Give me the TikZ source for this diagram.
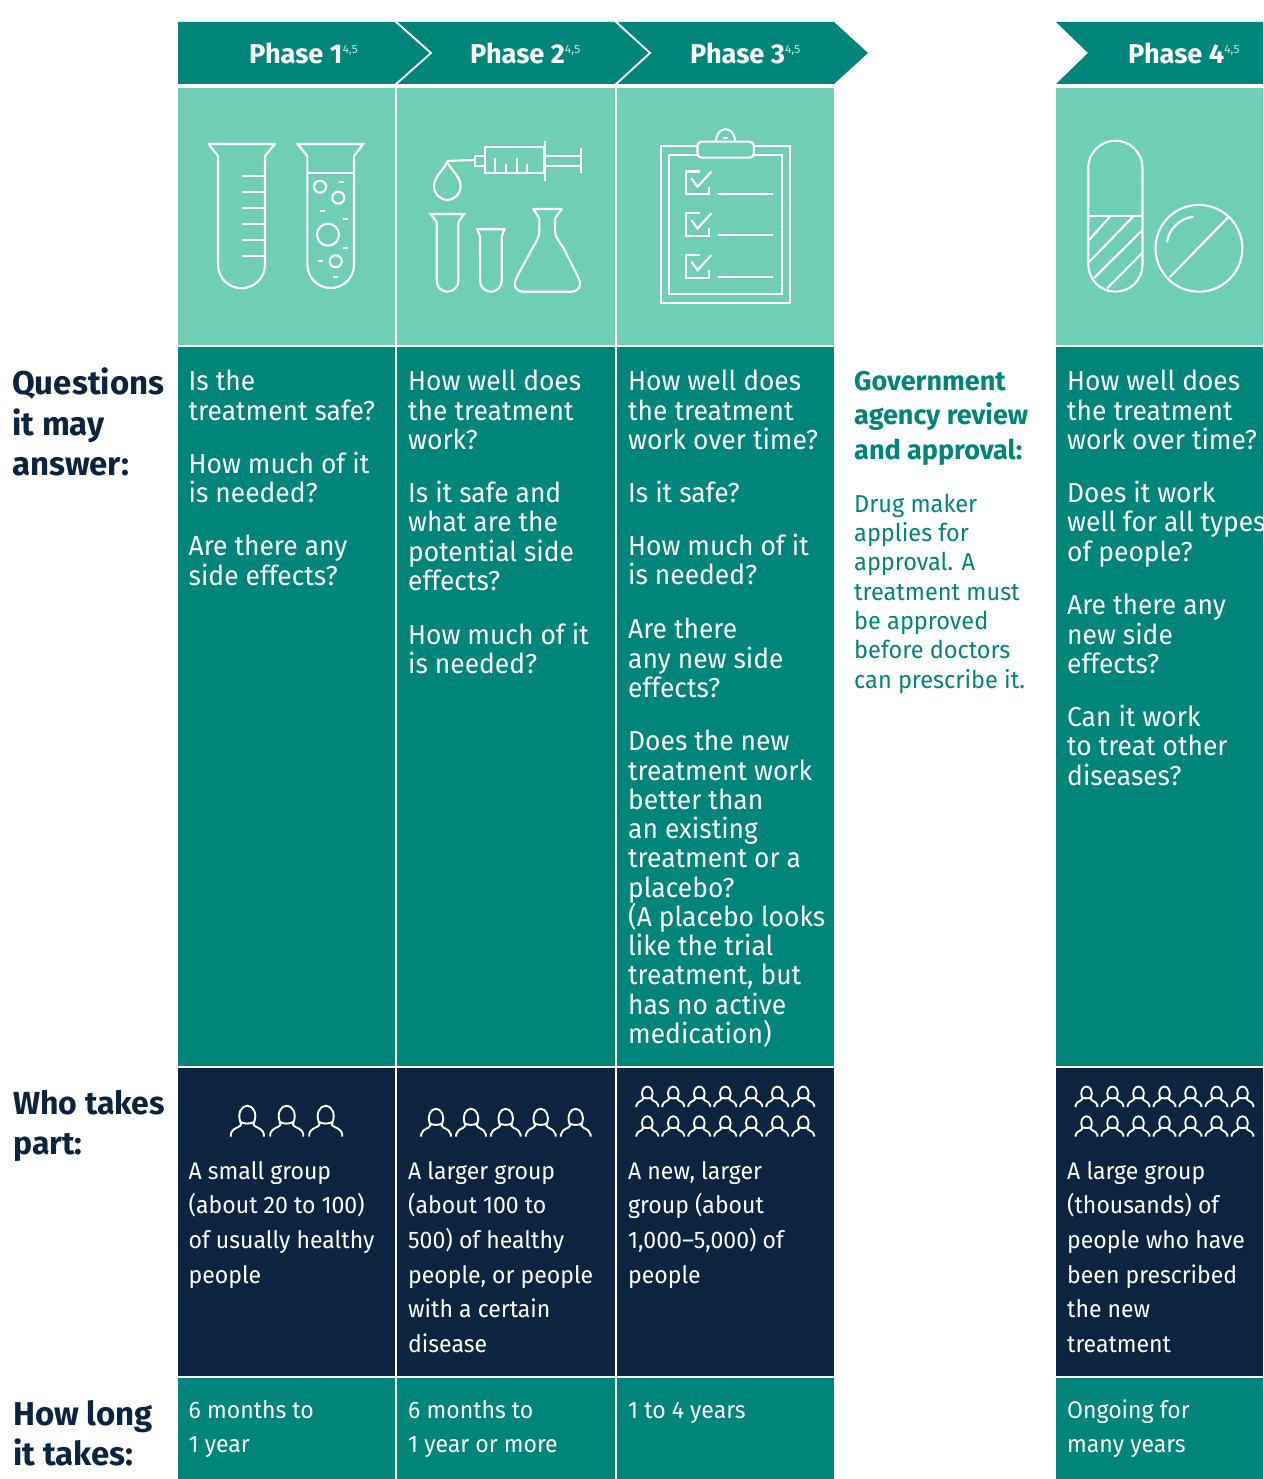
\documentclass[tikz,border=0pt]{standalone}
\usepackage{fontspec}
\setmainfont{Fira Sans}
\newfontfamily\narrowf[FakeStretch=0.96]{Fira Sans}
\definecolor{teal1}{HTML}{00857A}
\definecolor{mint}{HTML}{70CFB2}
\definecolor{navy}{HTML}{0D2440}
\newcommand{\blk}[5]{% name,x,baseline,style,text
  \node[#4,anchor=north west,inner sep=0pt,align=left] (#1) at (#2,#3-20) {\rule{0pt}{20pt}#5};}
\newcommand{\person}[3]{% cx, bottom, scale
  \begin{scope}[shift={(#1,#2)},scale=#3]
    \draw[picon] (-16.5,0) -- (-16.5,-2.5) .. controls (-16,-6) and (-13,-8) .. (-8.5,-10)
      .. controls (-5.5,-11.5) and (-6,-13) .. (-7,-15) .. controls (-10,-23) and (-6,-31) .. (0,-31)
      .. controls (6,-31) and (10,-23) .. (7,-15) .. controls (6,-13) and (5.5,-11.5) .. (8.5,-10)
      .. controls (13,-8) and (16,-6) .. (16.5,-2.5) -- (16.5,0);
    \draw[picon] (-7,-15) .. controls (-4,-12.5) and (4,-12.5) .. (7,-15);
  \end{scope}}
\tikzset{
  x=1pt,y=-1pt,
  icon/.style={draw=white,line width=2.1pt,fill=none},
  picon/.style={draw=white,line width=1.9pt,fill=none},
  qtext/.style={text=white,yshift=1pt,font=\narrowf\fontsize{27.5}{29.25}\selectfont},
  wtext/.style={text=white,font=\narrowf\fontsize{24}{34.6}\selectfont},
  gtext/.style={text=teal1,font=\narrowf\fontsize{24.5}{29.3}\selectfont},
  ghead/.style={text=teal1,font=\bfseries\fontsize{27}{34.6}\selectfont},
  lhead/.style={text=navy,font=\bfseries\fontsize{33}{40.4}\selectfont},
  lheadb/.style={text=navy,font=\bfseries\fontsize{32}{40.4}\selectfont},
  phase/.style={text=white,font=\bfseries\fontsize{27.2}{30}\selectfont},
}
\newcommand{\sups}{\raisebox{10pt}{\mdseries\fontsize{12}{12}\selectfont\color{mint!50!white}4,5}}
\begin{document}
\begin{tikzpicture}
\useasboundingbox (0,0) rectangle (1263,1479);
\fill[white] (0,0) rectangle (1263,1479);
% header
\fill[teal1] (178,22) -- (834,22) -- (868,53) -- (834,84) -- (178,84) -- cycle;
\fill[teal1] (1056,22) -- (1263,22) -- (1263,84) -- (1056,84) -- (1088,53) -- cycle;
\draw[white,line width=1.9pt] (395,21) -- (431,53) -- (395,85);
\draw[white,line width=1.9pt] (615,21) -- (650,53) -- (615,85);
% columns
\foreach \a/\b in {178/395,397/615,617/834,1056/1263}{
  \fill[mint] (\a,88) rectangle (\b,345);
  \fill[teal1] (\a,347) rectangle (\b,1066);
  \fill[navy] (\a,1068) rectangle (\b,1376);
  \fill[teal1] (\a,1378) rectangle (\b,1479);
}
% phase labels
\node[phase,anchor=base west,inner sep=0pt] (ph1) at (249,64) {Phase 1\sups};
\node[phase,anchor=base west,inner sep=0pt] (ph2) at (470,64) {Phase 2\sups};
\node[phase,anchor=base west,inner sep=0pt] (ph3) at (690,64) {Phase 3\sups};
\node[phase,anchor=base west,inner sep=0pt] (ph4) at (1128,64) {Phase 4\sups};
% left headings
\blk{lq}{12}{388}{lhead}{Questions\\it may\\answer:}
\blk{lw}{13}{1110}{lheadb}{Who takes\\part:}
\blk{ll}{13}{1420}{lhead}{How long\\it takes:}
% questions
\blk{qa1}{188.5}{391}{qtext}{Is the\\treatment safe?}
\blk{qa2}{188.5}{472.5}{qtext}{How much of it\\is needed?}
\blk{qa3}{188.5}{556}{qtext}{Are there any\\side effects?}
\blk{qb1}{408}{391}{qtext}{How well does\\the treatment\\work?}
\blk{qb2}{408}{502}{qtext}{Is it safe and\\what are the\\potential side\\effects?}
\blk{qb3}{408}{643.5}{qtext}{How much of it\\is needed?}
\blk{qc1}{628}{391}{qtext}{How well does\\the treatment\\work over time?}
\blk{qc2}{628}{502}{qtext}{Is it safe?}
\blk{qc3}{628}{555}{qtext}{How much of it\\is needed?}
\blk{qc4}{628}{639}{qtext}{Are there\\any new side\\effects?}
\blk{qc5}{628}{751}{qtext}{Does the new\\treatment work\\better than\\an existing\\treatment or a\\placebo?\\(A placebo looks\\like the trial\\treatment, but\\has no active\\medication)}
\blk{qd1}{1067}{391}{qtext}{How well does\\the treatment\\work over time?}
\blk{qd2}{1067}{502}{qtext}{Does it work\\well for all types\\of people?}
\blk{qd3}{1067}{615}{qtext}{Are there any\\new side\\effects?}
\blk{qd4}{1067}{726}{qtext}{Can it work\\to treat other\\diseases?}
% government
\blk{gh}{854}{390}{ghead}{Government\\agency review\\and approval:}
\blk{gb}{854}{512}{gtext}{Drug maker\\applies for\\approval. A\\treatment must\\be approved\\before doctors\\can prescribe it.}
% who
\blk{wa}{188.5}{1179}{wtext}{A small group\\(about 20 to 100)\\of usually healthy\\people}
\blk{wb}{408}{1179}{wtext}{A larger group\\(about 100 to\\500) of healthy\\people, or people\\with a certain\\disease}
\blk{wc}{628}{1179}{wtext}{A new, larger\\group (about\\1,000–5,000) of\\people}
\blk{wd}{1067}{1179}{wtext}{A large group\\(thousands) of\\people who have\\been prescribed\\the new\\treatment}
% how long
\blk{ta}{188.5}{1418}{wtext}{6 months to\\1 year}
\blk{tb}{408}{1418}{wtext}{6 months to\\1 year or more}
\blk{tc}{628}{1418}{wtext}{1 to 4 years}
\blk{td}{1067}{1418}{wtext}{Ongoing for\\many years}
% Phase 1 icon
\draw[icon,line join=round] (208.5,144) -- (275,144) -- (265,156) -- (265,264.7) arc[start angle=0,end angle=180,x radius=23.5,y radius=23.5] -- (218,156) -- cycle;
\foreach \y in {175.7,192.3,208.3,224.3,240,256} \draw[icon] (241.7,\y) -- (265,\y);
\draw[icon] (297.5,144) -- (363.3,144) -- (354,156) -- (354,264.7) arc[start angle=0,end angle=180,x radius=23.3,y radius=23.3] -- (307.3,156) -- cycle;
\draw[icon] (307.3,173.3) -- (354,173.3);
\foreach \x/\y/\r in {320/186.7/6,338.3/197.7/6,328/234.7/11,335.7/261.3/6} \draw[icon] (\x,\y) circle (\r);
\foreach \x/\y in {338.5/181.7,320/210.7,343/218.7,343/248,317.5/261.3,333/277} \draw[icon] (\x,\y) -- ++(5,0);
% Phase 2 icon
\draw[icon] (447.3,161.7) .. controls (444,170) and (434,176) .. (434,186.5) arc[start angle=180,end angle=360,x radius=13.3,y radius=-13.3] .. controls (460.6,176) and (450.6,170) .. (447.3,161.7) -- cycle;
\draw[icon] (447.3,161) -- (475,160);
\draw[icon] (475,155.7) rectangle (485,165.7);
\draw[icon] (485,147.3) rectangle (544,173.3);
\draw[icon] (545,140.7) -- (545,180.7);
\draw[icon] (545,155.7) -- (580.7,155.7) (545,165.7) -- (580.7,165.7);
\draw[icon] (580.7,148.3) -- (580.7,173.3);
\foreach \x/\y in {495/158.3,506/164,516.7/158.3,526.7/164} \draw[icon] (\x,\y) -- (\x,173.3);
\draw[icon] (430.7,214) -- (464,214) -- (458.3,222.3) -- (458.3,280.9) arc[start angle=0,end angle=180,x radius=10.8,y radius=10.8] -- (436.7,222.3) -- cycle;
\draw[icon] (477.3,229.3) -- (504.3,229.3) -- (501.7,236.7) -- (501.7,280.9) arc[start angle=0,end angle=180,x radius=10.8,y radius=10.8] -- (480,236.7) -- cycle;
\draw[icon,line join=round] (533.3,209) -- (561.7,209) -- (555,218.3) -- (555,230) .. controls (555,238) and (560,242) .. (564,249) -- (578,276.7) .. controls (583,286) and (578,291.7) .. (571.7,291.7) -- (523.3,291.7) .. controls (516,291.7) and (512,286) .. (517,276.7) -- (532,249) .. controls (536,242) and (539.3,238) .. (539.3,230) -- (539.3,218.3) -- cycle;
% Phase 3 icon
\draw[icon] (660.8,146) rectangle (790,302.7);
\draw[icon] (669.2,154.7) rectangle (781.7,294);
\draw[icon,fill=mint,rounded corners=4pt] (697.5,141.7) rectangle (753.8,157.7);
\draw[icon] (716,141.7) .. controls (716,125) and (735,125) .. (735,141.7);
\draw[icon] (723,138) -- (728,138);
\foreach \d in {0,41.7,83.4}{
  \begin{scope}[shift={(0,\d)}]
  \draw[icon] (699.6,171.5) -- (685.8,171.5) -- (685.8,194.3) -- (709.2,194.3) -- (709.2,186.7);
  \draw[icon] (691.3,178.3) -- (697.5,186.7) -- (711.3,171.7);
  \draw[icon] (717.5,193.7) -- (772.5,193.7);
  \end{scope}}
% Phase 4 icon
\draw[icon] (1088.3,167.7) arc[start angle=180,end angle=360,x radius=27.1,y radius=27] -- (1142.5,264.7) arc[start angle=0,end angle=180,x radius=27.1,y radius=27] -- cycle;
\draw[icon] (1088.3,216) -- (1142.5,216);
\draw[icon] (1110,216.7) -- (1089,240);
\draw[icon] (1133,216.7) -- (1089,262);
\draw[icon] (1142.5,230) -- (1094,278);
\draw[icon] (1142.5,252.7) -- (1107,288.3);
\draw[icon] (1198.9,248.3) circle (43.4);
\draw[icon] (1227.9,217.5) -- (1169.6,277.3);
\draw[icon] (1193.3,216.7) .. controls (1180,218) and (1168,230) .. (1167,242.3);
% people
\foreach \x in {247.3,286.7,325.7} \person{\x}{1136.7}{1};
\foreach \x in {436,471,505.7,540.7,575.7} \person{\x}{1136.7}{0.9};
\foreach \i in {0,...,6}{
  \pgfmathsetmacro{\xa}{647.3+26*\i}
  \pgfmathsetmacro{\xb}{1086.5+26*\i}
  \person{\xa}{1107}{0.66}
  \person{\xa}{1136.7}{0.66}
  \person{\xb}{1107}{0.66}
  \person{\xb}{1136.7}{0.66}
}
\end{tikzpicture}
\end{document}
